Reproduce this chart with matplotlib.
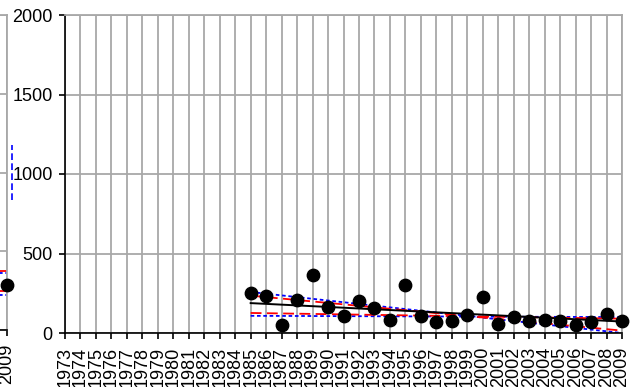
import matplotlib
matplotlib.use("Agg")
import matplotlib.pyplot as plt
from matplotlib.lines import Line2D
import numpy as np

plt.rcParams['font.family'] = ['Liberation Sans', 'DejaVu Sans']

# annual values
years = list(range(1985, 2010))
values = [252, 233, 50, 207, 365, 163, 107, 201, 157, 82, 302, 107, 69,
          75, 113, 226, 57, 101, 75, 82, 75, 50, 69, 120, 75]

# trend lines, value at first and last year
trend_years = [1985, 2009]
sen_line = [188, 72]
conf95_min = [235, 15]
conf95_max = [126, 90]
conf99_min = [258, 0]
conf99_max = [108, 100]

# neighbouring series (only its last year shows)
side_year = [2009]
side_value = [283]
side_95 = [377, 245]
side_99 = [365, 220]

all_years = list(range(1973, 2010))

W, H = 632, 387
fig = plt.figure(figsize=(W / 100, H / 100), dpi=100)

grid_col = '#a8a8a8'
fs = 13


def style_axes(ax):
    ax.set_xlim(1973, 2009)
    ax.set_ylim(0, 2000)
    ax.set_yticks([0, 500, 1000, 1500, 2000])
    ax.set_xticks(all_years)
    ax.grid(True, color=grid_col, linewidth=1.3)
    ax.set_axisbelow(True)
    for s in ['top', 'right']:
        ax.spines[s].set_color(grid_col)
        ax.spines[s].set_linewidth(1.3)
    for s in ['left', 'bottom']:
        ax.spines[s].set_color('black')
        ax.spines[s].set_linewidth(1.2)
    ax.tick_params(direction='out', length=4, width=1.2, color='black',
                   labelsize=fs, pad=5)
    ax.tick_params(axis='x', labelrotation=90, pad=6)


# main chart
left, right = 65 / W, 622 / W
bottom, top = 1 - 333 / H, 1 - 15 / H
ax = fig.add_axes([left, bottom, right - left, top - bottom])
style_axes(ax)
ax.set_xticklabels([str(y) for y in all_years])

ax.plot(trend_years, conf99_min, color='blue', ls=(0, (2, 1.5)), lw=1.3)
ax.plot(trend_years, conf99_max, color='blue', ls=(0, (2, 1.5)), lw=1.3)
ax.plot(trend_years, conf95_min, color='red', ls=(0, (6, 3)), lw=1.3)
ax.plot(trend_years, conf95_max, color='red', ls=(0, (6, 3)), lw=1.3)
ax.plot(trend_years, sen_line, color='black', lw=1.4)
ax.scatter(years, values, s=80, color='black', zorder=5, clip_on=False)

# chart to the left, cut off by the figure edge
w = right - left
ax0 = fig.add_axes([7 / W - w, 1 - 330 / H, w, top - (1 - 330 / H)])
style_axes(ax0)
ax0.set_yticklabels([])
ax0.set_xticklabels([str(y) for y in all_years])
ax0.plot([2008, 2009], [side_95[0]] * 2, color='red', ls=(0, (6, 3)), lw=1.3)
ax0.plot([2008, 2009], [side_95[1]] * 2, color='red', ls=(0, (6, 3)), lw=1.3)
ax0.plot([2008, 2009], [side_99[0]] * 2, color='blue', ls=(0, (2, 1.5)), lw=1.3)
ax0.plot([2008, 2009], [side_99[1]] * 2, color='blue', ls=(0, (2, 1.5)), lw=1.3)
ax0.scatter(side_year, side_value, s=80, color='black', zorder=5, clip_on=False)

fig.add_artist(Line2D([12 / W, 12 / W], [1 - 200 / H, 1 - 145 / H],
                      color='blue', ls=(0, (4, 2)), lw=1.2))

fig.savefig('out.png', dpi=100)
